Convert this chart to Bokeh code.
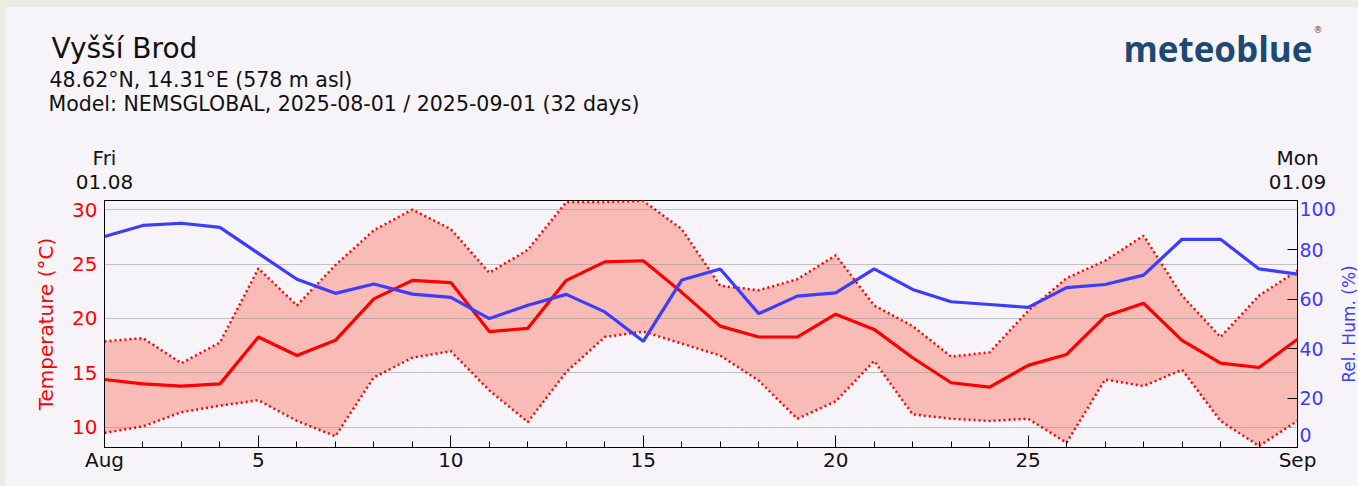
import math
from bokeh.plotting import figure
from bokeh.layouts import column, row
from bokeh.models import Range1d, LinearAxis, FixedTicker, Label
from bokeh.embed import file_html
from bokeh.resources import INLINE

# ---------------- data ----------------
days = list(range(1, 33))  # 1 = 1 Aug ... 32 = 1 Sep
x_tick_days = [1, 5, 10, 15, 20, 25, 32]
x_tick_labels = ["Aug", "5", "10", "15", "20", "25", "Sep"]
top_days = [1, 32]
top_labels = ["Fri\n01.08", "Mon\n01.09"]

t_mean = [14.4, 14.0, 13.8, 14.0, 18.3, 16.6, 18.0, 21.8, 23.5, 23.3,
          18.8, 19.1, 23.5, 25.2, 25.3, 22.4, 19.3, 18.3, 18.3, 20.4,
          19.0, 16.4, 14.1, 13.7, 15.7, 16.7, 20.2, 21.4, 18.0, 15.9,
          15.5, 18.1]
t_max = [17.9, 18.2, 15.9, 17.8, 24.6, 21.2, 24.9, 28.1, 30.0, 28.2,
         24.2, 26.3, 30.7, 30.7, 30.8, 28.2, 23.0, 22.6, 23.6, 25.8,
         21.2, 19.3, 16.5, 16.9, 20.7, 23.7, 25.3, 27.6, 22.1, 18.3,
         22.1, 24.4]
t_min = [9.5, 10.1, 11.4, 12.0, 12.5, 10.6, 9.2, 14.6, 16.4, 17.0,
         13.4, 10.5, 15.1, 18.3, 18.8, 17.7, 16.6, 14.3, 10.8, 12.4,
         16.1, 11.2, 10.8, 10.6, 10.8, 8.6, 14.4, 13.8, 15.3, 10.6,
         8.3, 10.6]
rel_hum = [85.4, 89.9, 90.8, 89.1, 78.6, 68.1, 62.4, 66.2, 62.1, 60.8,
           52.2, 57.6, 62.0, 54.9, 43.0, 67.8, 72.3, 54.2, 61.3, 62.6,
           72.3, 64.0, 59.0, 57.9, 56.7, 64.7, 66.0, 69.8, 84.3, 84.3,
           72.3, 70.2]
temp_ticks = [10, 15, 20, 25, 30]
hum_ticks = [0, 20, 40, 60, 80, 100]

title_text = "Vyšší Brod"
sub1_text = "48.62°N, 14.31°E (578 m asl)"
sub2_text = "Model: NEMSGLOBAL, 2025-08-01 / 2025-09-01 (32 days)"
hum_title = "Rel. Hum. (%)"

# ---------------- style / layout ----------------
FONT = "DejaVu Sans"
BG = "#f7f4f9"
PAGE = "#ecebe4"
RED = "#ff0000"
BLUE = "#3c3cff"
FILL = "#f8bbb6"
INK = "#111111"
LOGO = "#1d4a72"
T_LO, T_HI = 8.16, 30.83
OX, OY = 5, 7                 # beige page strip left / top
W = 1358 - OX
HEAD_H = 130 - OY
MAIN_H = 486 - 130
TOP_B = 70
BOT_B = 39
LEFT_B = 104 - OX
SIDE_W = 20
MAIN_W = W - SIDE_W
RIGHT_B = MAIN_W + OX - 1299
FRAME_H = MAIN_H - TOP_B - BOT_B
HEAD_SHIFT = -8

# ---------------- header (title block + logo) ----------------
head = figure(width=W, height=HEAD_H, output_backend="svg", title=None,
              toolbar_location=None, x_range=Range1d(0, W),
              y_range=Range1d(HEAD_H, 0), x_axis_location=None,
              y_axis_location=None, min_border=0, outline_line_color=None,
              background_fill_color=BG, border_fill_color=BG)
head.grid.visible = False


def hlab(x, y, **kw):
    base = dict(text_font=FONT, text_font_size="20px", text_color=INK,
                text_align="left", text_baseline="alphabetic")
    base.update(kw)
    head.add_layout(Label(x=x - OX, y=y - OY + HEAD_SHIFT, **base))


hlab(51, 55.7, text=title_text, text_font_size="28px")
hlab(49, 87.7, text=sub1_text, text_font_size="20.5px")
hlab(48, 111, text=sub2_text, text_font_size="20.5px")
hlab(1312, 56, text="meteoblue", text_font="Open Sans",
     text_font_style="bold", text_font_size="35px", text_color=LOGO,
     text_align="right")
hlab(1313, 32, text="®", text_font_size="9px", text_color=LOGO,
     text_baseline="top")

# ---------------- main chart ----------------
p = figure(width=MAIN_W, height=MAIN_H, output_backend="svg",
           toolbar_location=None,
           x_range=Range1d(1, 32), y_range=Range1d(T_LO, T_HI),
           min_border_left=LEFT_B, min_border_right=RIGHT_B,
           min_border_top=TOP_B, min_border_bottom=BOT_B,
           background_fill_color=BG, border_fill_color=BG,
           outline_line_color="black", outline_line_width=1)
p.extra_y_ranges = {"hum": Range1d(0, 100)}

# x axis
xa = p.xaxis[0]
xa.ticker = FixedTicker(ticks=x_tick_days, minor_ticks=days)
xa.major_label_overrides = {d: l for d, l in zip(x_tick_days, x_tick_labels)}
xa.major_tick_in = 12
xa.major_tick_out = 0
xa.minor_tick_in = 6
xa.minor_tick_out = 0
xa.major_tick_line_color = "black"
xa.minor_tick_line_color = "black"
xa.axis_line_color = "black"
xa.major_label_text_font = FONT
xa.major_label_text_font_size = "20px"
xa.major_label_text_color = INK
xa.major_label_standoff = 0

# top axis with weekday / date
ta = LinearAxis(ticker=FixedTicker(ticks=top_days, minor_ticks=[]),
                major_label_overrides={d: l for d, l in zip(top_days, top_labels)},
                major_tick_in=0, major_tick_out=0, axis_line_color=None,
                major_label_text_font=FONT, major_label_text_font_size="20px",
                major_label_text_color=INK, major_label_standoff=7,
                major_label_text_line_height=1.0)
p.add_layout(ta, "above")

# left temperature axis
ya = p.yaxis[0]
ya.ticker = FixedTicker(ticks=temp_ticks, minor_ticks=[])
ya.major_tick_in = 0
ya.major_tick_out = 0
ya.axis_line_color = "black"
ya.major_label_text_font = FONT
ya.major_label_text_font_size = "20px"
ya.major_label_text_color = RED
ya.major_label_standoff = 7
ya.axis_label = "Temperature (°C)"
ya.axis_label_text_font = FONT
ya.axis_label_text_font_size = "20px"
ya.axis_label_text_font_style = "normal"
ya.axis_label_text_color = RED
ya.axis_label_standoff = 11

# right humidity axis: tick marks (as minor ticks) at the true positions,
# labels with the end labels nudged inside the frame like the original
px_per_pct = FRAME_H / 100.0
lab_pos = []
for v in hum_ticks:
    if v == hum_ticks[0]:
        lab_pos.append(round(v + 12.7 / px_per_pct, 2))
    elif v == hum_ticks[-1]:
        lab_pos.append(round(v - 8.2 / px_per_pct, 2))
    else:
        lab_pos.append(float(v))
ra = LinearAxis(y_range_name="hum",
                ticker=FixedTicker(ticks=lab_pos, minor_ticks=hum_ticks),
                major_label_overrides={pos: str(v) for pos, v in zip(lab_pos, hum_ticks)},
                major_tick_in=0, major_tick_out=0,
                minor_tick_in=10, minor_tick_out=0,
                minor_tick_line_color="black", axis_line_color="black",
                major_label_text_font=FONT, major_label_text_font_size="19px",
                major_label_text_color=BLUE, major_label_standoff=2)
p.add_layout(ra, "right")

# grid
p.xgrid.visible = False
p.ygrid.ticker = FixedTicker(ticks=temp_ticks, minor_ticks=[])
p.ygrid.grid_line_color = "#8f8f8f"
p.ygrid.grid_line_dash = "1 1"
p.ygrid.grid_line_width = 1

# ---------------- glyphs ----------------
p.varea(x=days, y1=t_min, y2=t_max, fill_color=FILL, level="underlay")
p.line(days, t_max, line_color=RED, line_width=2.5, line_dash="2 3")
p.line(days, t_min, line_color=RED, line_width=2.5, line_dash="2 3")
p.line(days, t_mean, line_color=RED, line_width=3.2)
p.line(days, rel_hum, y_range_name="hum", line_color=BLUE, line_width=3.2)

# ---------------- right strip with the humidity axis title ----------------
side = figure(width=SIDE_W, height=MAIN_H, output_backend="svg", title=None,
              toolbar_location=None, x_range=Range1d(0, SIDE_W),
              y_range=Range1d(MAIN_H, 0), x_axis_location=None,
              y_axis_location=None, min_border=0, outline_line_color=None,
              background_fill_color=BG, border_fill_color=BG)
side.grid.visible = False
side.add_layout(Label(x=SIDE_W / 2, y=TOP_B + FRAME_H / 2, text=hum_title,
                      angle=math.pi / 2, text_font=FONT,
                      text_font_size="17px", text_color=BLUE,
                      text_align="center", text_baseline="middle"))

for fig in (head, p, side):
    if "frame_align" in fig.properties():
        fig.frame_align = False

layout = column(head, row(p, side, spacing=0), spacing=0,
                styles={"background-color": BG,
                        "border-top": f"{OY}px solid {PAGE}",
                        "border-left": f"{OX}px solid {PAGE}"})
open("out.html", "w").write(file_html(layout, INLINE, title="Vyšší Brod"))
